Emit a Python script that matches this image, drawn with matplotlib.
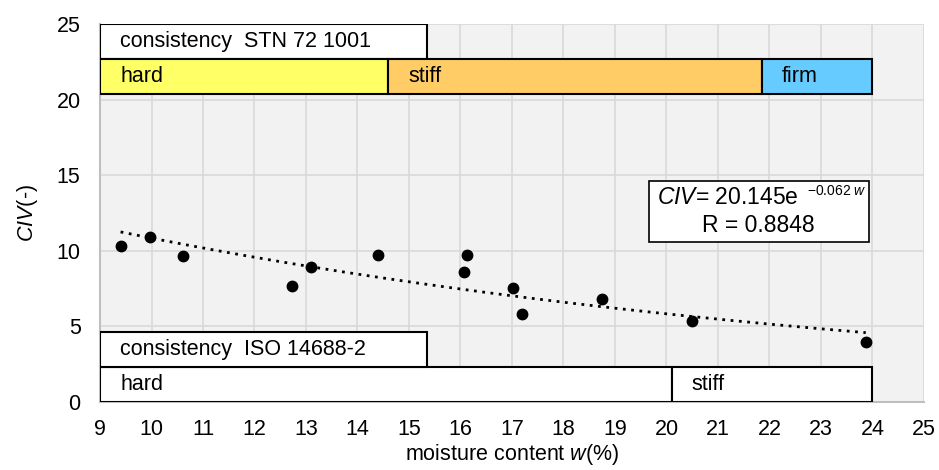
import numpy as np
import matplotlib
matplotlib.use("Agg")
import matplotlib.pyplot as plt
from matplotlib.patches import Rectangle

plt.rcParams["font.family"] = ["Liberation Sans", "DejaVu Sans"]
plt.rcParams["mathtext.fontset"] = "custom"
plt.rcParams["mathtext.rm"] = "Liberation Sans"
plt.rcParams["mathtext.it"] = "Liberation Sans:italic"

# measured points: moisture content w (%) vs CIV (-)
w_vals = [9.40, 9.97, 10.62, 12.72, 13.09, 14.39, 16.12, 16.07, 17.01, 17.20, 18.74, 20.50, 23.87]
civ_vals = [10.34, 10.93, 9.66, 7.67, 8.91, 9.72, 9.72, 8.62, 7.56, 5.82, 6.79, 5.36, 3.95]

# exponential trend shown in the chart
fit_a = 20.145
fit_b = -0.062
fit_r = 0.8848

# consistency bands (x edges along w)
stn_edges = [9, 14.6, 21.85, 24.0]
stn_labels = ["hard", "stiff", "firm"]
stn_colors = ["#FFFF66", "#FFCC66", "#66CCFF"]
iso_edges = [9, 20.1, 24.0]
iso_labels = ["hard", "stiff"]
header_end = 15.35

x_ticks = list(range(9, 26))
y_ticks = [0, 5, 10, 15, 20, 25]

FS = 15.5

fig = plt.figure(figsize=(9.39, 4.70), dpi=100)
ax = fig.add_axes([0.1065, 0.1447, 0.8775, 0.8043])
ax.set_facecolor("#F2F2F2")
ax.set_xlim(9, 25)
ax.set_ylim(0, 25)
ax.set_xticks(x_ticks)
ax.set_yticks(y_ticks)
ax.grid(True, color="#D9D9D9", lw=1.2, zorder=0)
ax.set_axisbelow(True)
ax.tick_params(length=0, labelsize=FS)
ax.tick_params(axis="x", pad=12)
ax.tick_params(axis="y", pad=14)
for s in ("top", "right"):
    ax.spines[s].set_visible(False)
for s in ("left", "bottom"):
    ax.spines[s].set_color("#BFBFBF")
    ax.spines[s].set_linewidth(1.5)


def band_row(edges, labels, colors, y0, h):
    for i, lab in enumerate(labels):
        ax.add_patch(Rectangle((edges[i], y0), edges[i + 1] - edges[i], h,
                               facecolor=colors[i], edgecolor="black", lw=1.5, zorder=3))
        ax.text(edges[i] + 0.39, y0 + h / 2, lab, fontsize=FS, va="center", ha="left", zorder=4)


row_h = 2.33
# STN 72 1001 (top)
ax.add_patch(Rectangle((9, 25 - row_h), header_end - 9, row_h, facecolor="white",
                       edgecolor="black", lw=1.5, zorder=3))
ax.text(9.39, 25 - row_h / 2, "consistency  STN 72 1001", fontsize=FS, va="center", zorder=4)
band_row(stn_edges, stn_labels, stn_colors, 25 - 2 * row_h, row_h)

# ISO 14688-2 (bottom)
band_row(iso_edges, iso_labels, ["white", "white"], 0, row_h)
ax.add_patch(Rectangle((9, row_h), header_end - 9, row_h, facecolor="white",
                       edgecolor="black", lw=1.5, zorder=3))
ax.text(9.39, row_h * 1.5, "consistency  ISO 14688-2", fontsize=FS, va="center", zorder=4)

# trend line over the data range
wx = np.linspace(min(w_vals), max(w_vals), 200)
ax.plot(wx, fit_a * np.exp(fit_b * wx), color="black", ls=(0, (1, 2.0)), lw=2, zorder=5)
ax.plot(w_vals, civ_vals, "o", color="black", ms=7.5, zorder=6)

# equation box
ax.add_patch(Rectangle((19.66, 10.58), 4.27, 4.04, facecolor="white",
                       edgecolor="black", lw=1.2, zorder=3))
ax.text(19.82, 13.5, r"$CIV$" + f"= {fit_a:.3f}e", fontsize=16.5, ha="left", va="center", zorder=4)
ax.text(22.72, 13.95, f"${fit_b:.3f}" + r"\ w$",
        fontsize=10, ha="left", va="center", zorder=4)
ax.text(21.78, 11.65, f"R = {fit_r:.4f}", fontsize=16.5, ha="center", va="center", zorder=4)

ax.set_xlabel(r"moisture content $w$(%)", fontsize=FS, labelpad=2)
ax.set_ylabel(r"$CIV$(-)", fontsize=FS, labelpad=12)

fig.savefig("out.png", dpi=100)
